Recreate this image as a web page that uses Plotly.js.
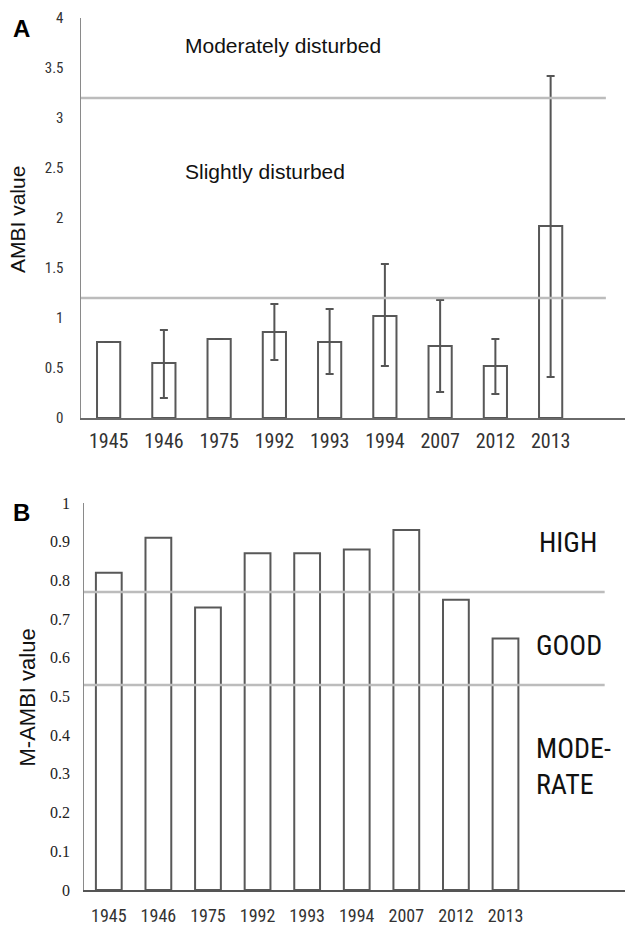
<!DOCTYPE html>
<html>
<head>
<meta charset="utf-8">
<script src="https://cdn.plot.ly/plotly-3.0.1.min.js"></script>
<style>html,body{margin:0;padding:0;background:#fff}#chart{width:625px;height:925px}</style>
</head>
<body>
<div id="chart"></div>
<script>
// ---- data ----
const years = ["1945","1946","1975","1992","1993","1994","2007","2012","2013"];
const ambi = [0.76, 0.55, 0.79, 0.86, 0.76, 1.02, 0.72, 0.52, 1.92];
const ambiErrUp = [null, 0.33, null, 0.28, 0.33, 0.52, 0.46, 0.27, 1.50];
const ambiErrDown = [null, 0.35, null, 0.28, 0.32, 0.50, 0.46, 0.28, 1.51];
const mambi = [0.82, 0.91, 0.73, 0.87, 0.87, 0.88, 0.93, 0.75, 0.65];
const ambiThresholds = [1.2, 3.2];
const mambiThresholds = [0.53, 0.77];
const ambiTicks = [0, 0.5, 1, 1.5, 2, 2.5, 3, 3.5, 4];
const ambiTickText = ["0","0.5","1","1.5","2","2.5","3","3.5","4"];
const mambiTicks = [0,0.1,0.2,0.3,0.4,0.5,0.6,0.7,0.8,0.9,1];
const mambiTickText = ["0","0.1","0.2","0.3","0.4","0.5","0.6","0.7","0.8","0.9","1"];

const H = 925;
const narrow = 'Roboto Condensed';
const sans = 'Arial, Liberation Sans, sans-serif';
const serif = 'Liberation Serif';
const barLine = '#585858';

const traces = [
  {
    type: 'bar', x: years, y: ambi, xaxis: 'x', yaxis: 'y', width: 0.42,
    marker: {color: '#ffffff', line: {color: barLine, width: 2}},
    error_y: {type: 'data', symmetric: false, array: ambiErrUp, arrayminus: ambiErrDown,
              color: '#555555', thickness: 2, width: 4},
    hoverinfo: 'x+y', showlegend: false
  },
  {
    type: 'bar', x: years, y: mambi, xaxis: 'x2', yaxis: 'y2', width: 0.52,
    marker: {color: '#ffffff', line: {color: barLine, width: 2}},
    hoverinfo: 'x+y', showlegend: false
  }
];

const shapes = [];
ambiThresholds.forEach(v => shapes.push({type: 'line', xref: 'x', yref: 'y', x0: -0.5, x1: 9.0, y0: v, y1: v,
  line: {color: '#bcbcbc', width: 2.5}, layer: 'above'}));
mambiThresholds.forEach(v => shapes.push({type: 'line', xref: 'x2', yref: 'y2', x0: -0.5, x1: 10.0, y0: v, y1: v,
  line: {color: '#bcbcbc', width: 2.5}, layer: 'above'}));

const annotations = [
  {text: '<b>A</b>', xref: 'paper', yref: 'paper', x: 21/625, y: 1 - 28/H, showarrow: false,
   xanchor: 'center', yanchor: 'middle', font: {family: sans, size: 24, color: '#000'}},
  {text: '<b>B</b>', xref: 'paper', yref: 'paper', x: 21/625, y: 1 - 512/H, showarrow: false,
   xanchor: 'center', yanchor: 'middle', font: {family: sans, size: 24, color: '#000'}},
  {text: 'AMBI value', xref: 'paper', yref: 'paper', x: 17.5/625, y: 1 - 219.5/H, textangle: -90, showarrow: false,
   xanchor: 'center', yanchor: 'middle', font: {family: sans, size: 21, color: '#111'}},
  {text: 'M-AMBI value', xref: 'paper', yref: 'paper', x: 27/625, y: 1 - 697.5/H, textangle: -90, showarrow: false,
   xanchor: 'center', yanchor: 'middle', font: {family: sans, size: 22, color: '#111'}},
  {text: 'Moderately disturbed', xref: 'x', yref: 'y', x: 1.34, y: 3.73, showarrow: false,
   xanchor: 'left', yanchor: 'middle', font: {family: sans, size: 21, color: '#111'}},
  {text: 'Slightly disturbed', xref: 'x', yref: 'y', x: 1.34, y: 2.47, showarrow: false,
   xanchor: 'left', yanchor: 'middle', font: {family: sans, size: 21, color: '#111'}},
  {text: 'HIGH', xref: 'x2', yref: 'y2', x: 8.63, y: 0.897, showarrow: false,
   xanchor: 'left', yanchor: 'middle', font: {family: narrow, size: 28, color: '#111'}},
  {text: 'GOOD', xref: 'x2', yref: 'y2', x: 8.57, y: 0.633, showarrow: false,
   xanchor: 'left', yanchor: 'middle', font: {family: narrow, size: 28, color: '#111'}},
  {text: 'MODE-<br>RATE', xref: 'x2', yref: 'y2', x: 8.57, y: 0.320, showarrow: false, align: 'left',
   xanchor: 'left', yanchor: 'middle', font: {family: narrow, size: 28, color: '#111'}}
];
// serif tick labels for panel B's value axis, placed on the y2 scale
mambiTicks.forEach((v, i) => annotations.push({
  text: mambiTickText[i], xref: 'paper', yref: 'y2', x: 72/625, y: v, showarrow: false,
  xanchor: 'right', yanchor: 'middle', font: {family: serif, size: 16, color: '#222'}
}));

const layout = {
  width: 625, height: 925,
  margin: {l: 0, r: 0, t: 0, b: 0},
  paper_bgcolor: '#ffffff', plot_bgcolor: '#ffffff',
  showlegend: false, bargap: 0,
  xaxis: {
    domain: [81/625, 1], type: 'category', range: [-0.5, 9.346],
    showline: true, linecolor: '#6a6a6a', linewidth: 2, showgrid: false, zeroline: false,
    ticks: 'outside', ticklen: 4, tickcolor: 'rgba(0,0,0,0)',
    tickfont: {family: narrow, size: 20, color: '#333'}, anchor: 'y', fixedrange: true
  },
  yaxis: {
    domain: [(H - 418)/H, (H - 18)/H], range: [0, 4],
    tickvals: ambiTicks, ticktext: ambiTickText,
    showline: true, linecolor: '#8a8a8a', linewidth: 1.5, showgrid: false, zeroline: false,
    ticks: 'outside', ticklen: 13, tickcolor: 'rgba(0,0,0,0)',
    tickfont: {family: narrow, size: 15, color: '#333'}, anchor: 'x', fixedrange: true
  },
  xaxis2: {
    domain: [84/625, 1], type: 'category', range: [-0.5, 10.41],
    showline: true, linecolor: '#555555', linewidth: 2, showgrid: false, zeroline: false,
    ticks: 'outside', ticklen: 8, tickcolor: 'rgba(0,0,0,0)',
    tickfont: {family: narrow, size: 18, color: '#333'}, anchor: 'y2', fixedrange: true
  },
  yaxis2: {
    domain: [(H - 890)/H, (H - 503)/H], range: [0, 1],
    tickvals: mambiTicks, showticklabels: false,
    showline: true, linecolor: '#8a8a8a', linewidth: 1.5, showgrid: false, zeroline: false,
    ticks: '', anchor: 'x2', fixedrange: true
  },
  shapes: shapes,
  annotations: annotations
};

Plotly.newPlot('chart', traces, layout, {displayModeBar: false, staticPlot: true});
</script>
</body>
</html>
